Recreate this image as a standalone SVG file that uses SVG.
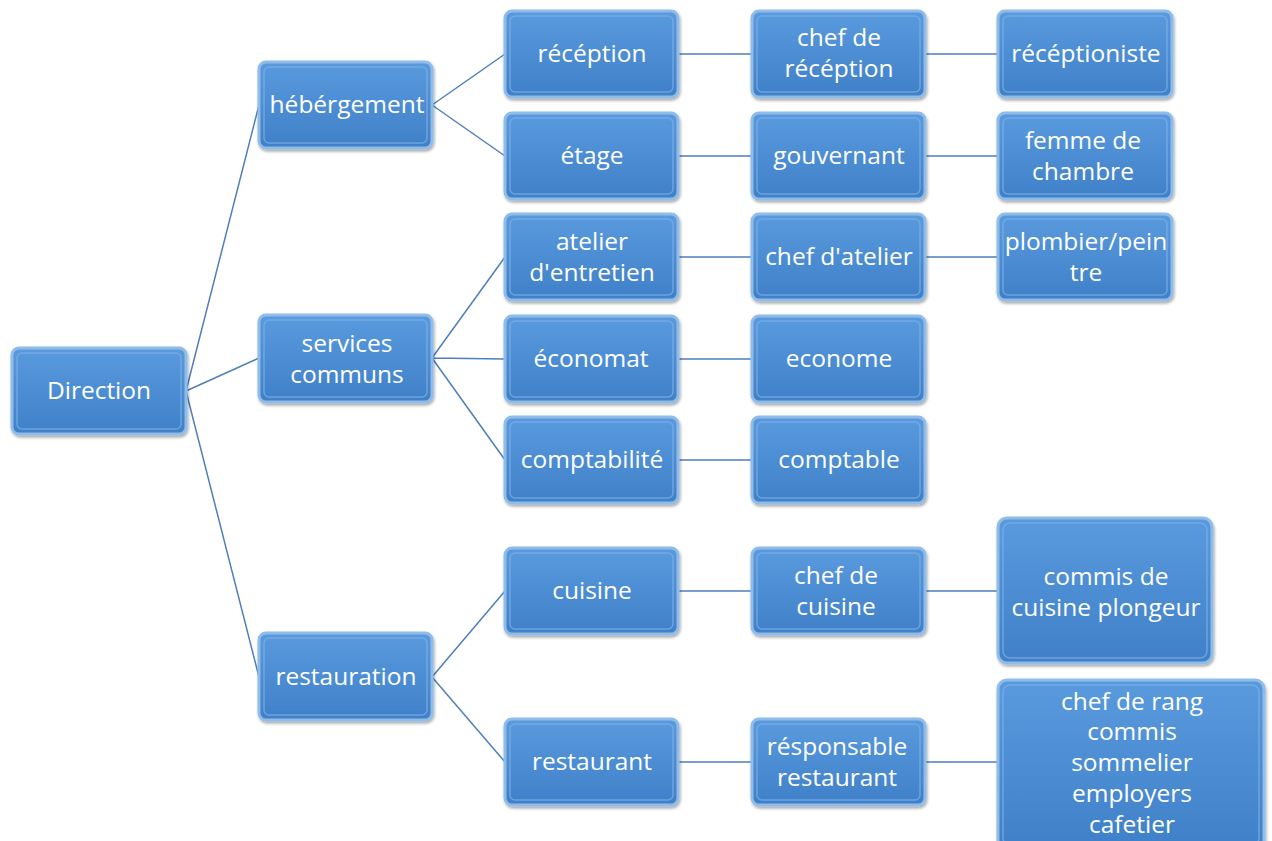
<svg xmlns="http://www.w3.org/2000/svg" width="1272" height="841" viewBox="0 0 1272 841">
<defs>
<linearGradient id="g" x1="0" y1="0" x2="0" y2="1">
<stop offset="0" stop-color="#5a9ade"/>
<stop offset="1" stop-color="#3f80c8"/>
</linearGradient>
<filter id="sh" x="-10%" y="-10%" width="130%" height="130%">
<feGaussianBlur in="SourceAlpha" stdDeviation="1.5"/>
<feOffset dx="1" dy="2" result="b"/>
<feComponentTransfer><feFuncA type="linear" slope="0.35"/></feComponentTransfer>
<feMerge><feMergeNode/><feMergeNode in="SourceGraphic"/></feMerge>
</filter>
</defs>
<style>
.b{fill:url(#g);stroke:#8fbce8;stroke-width:3;filter:url(#sh)}
.i{fill:none;stroke:#7fb0e4;stroke-width:1.5;opacity:0.7}
.t{font-family:"Open Sans","Liberation Sans",sans-serif;font-size:24.5px;fill:#ffffff;text-anchor:middle}
.c{stroke:#4f7fba;stroke-width:1.5;fill:none}
</style>
<rect width="1272" height="841" fill="#ffffff"/>
<g id="connectors">
<path class="c" d="M186,391 L259,105 M186,391 L259,358 M186,391 L259,677"/>
<path class="c" d="M432,105 L505,54 M432,105 L505,156"/>
<path class="c" d="M432,358 L505,257 M432,358 L505,359 M432,358 L505,460"/>
<path class="c" d="M432,677 L505,591 M432,677 L505,762"/>
<path class="c" d="M678,54 H752 M678,156 H752 M678,257 H752 M678,359 H752 M678,460 H752 M678,591 H752 M678,762 H752"/>
<path class="c" d="M925,54 H998 M925,156 H998 M925,257 H998 M925,591 H998 M925,762 H998"/>
</g>
<g id="direction"><rect class="b" x="12" y="348" width="174" height="86" rx="7"/><rect class="i" x="17" y="353" width="164" height="76" rx="5"/><text class="t" x="99" y="399">Direction</text></g>
<g id="hebergement"><rect class="b" x="259" y="62" width="173" height="86" rx="7"/><rect class="i" x="264" y="67" width="163" height="76" rx="5"/><text class="t" x="347" y="113">hébérgement</text></g>
<g id="services"><rect class="b" x="259" y="315" width="173" height="87" rx="7"/><rect class="i" x="264" y="320" width="163" height="77" rx="5"/><text class="t" x="347" y="352">services</text><text class="t" x="347" y="383">communs</text></g>
<g id="restauration"><rect class="b" x="259" y="633" width="173" height="87" rx="7"/><rect class="i" x="264" y="638" width="163" height="77" rx="5"/><text class="t" x="346" y="685">restauration</text></g>

<g id="reception"><rect class="b" x="505" y="11" width="173" height="86" rx="7"/><rect class="i" x="510" y="16" width="163" height="76" rx="5"/><text class="t" x="592" y="62">récéption</text></g>
<g id="etage"><rect class="b" x="505" y="113" width="173" height="86" rx="7"/><rect class="i" x="510" y="118" width="163" height="76" rx="5"/><text class="t" x="592" y="164">étage</text></g>
<g id="atelier"><rect class="b" x="505" y="214" width="173" height="86" rx="7"/><rect class="i" x="510" y="219" width="163" height="76" rx="5"/><text class="t" x="592" y="250">atelier</text><text class="t" x="592" y="281">d'entretien</text></g>
<g id="economat"><rect class="b" x="505" y="316" width="173" height="86" rx="7"/><rect class="i" x="510" y="321" width="163" height="76" rx="5"/><text class="t" x="591" y="367">économat</text></g>
<g id="comptabilite"><rect class="b" x="505" y="417" width="173" height="86" rx="7"/><rect class="i" x="510" y="422" width="163" height="76" rx="5"/><text class="t" x="592" y="468">comptabilité</text></g>
<g id="cuisine"><rect class="b" x="505" y="548" width="173" height="86" rx="7"/><rect class="i" x="510" y="553" width="163" height="76" rx="5"/><text class="t" x="592" y="599">cuisine</text></g>
<g id="restaurant"><rect class="b" x="505" y="719" width="173" height="86" rx="7"/><rect class="i" x="510" y="724" width="163" height="76" rx="5"/><text class="t" x="592" y="770">restaurant</text></g>

<g id="chef-reception"><rect class="b" x="752" y="11" width="173" height="86" rx="7"/><rect class="i" x="757" y="16" width="163" height="76" rx="5"/><text class="t" x="839" y="46">chef de</text><text class="t" x="839" y="77">récéption</text></g>
<g id="gouvernant"><rect class="b" x="752" y="113" width="173" height="86" rx="7"/><rect class="i" x="757" y="118" width="163" height="76" rx="5"/><text class="t" x="839" y="164">gouvernant</text></g>
<g id="chef-atelier"><rect class="b" x="752" y="214" width="173" height="86" rx="7"/><rect class="i" x="757" y="219" width="163" height="76" rx="5"/><text class="t" x="839" y="265">chef d'atelier</text></g>
<g id="econome"><rect class="b" x="752" y="316" width="173" height="86" rx="7"/><rect class="i" x="757" y="321" width="163" height="76" rx="5"/><text class="t" x="839" y="367">econome</text></g>
<g id="comptable"><rect class="b" x="752" y="417" width="173" height="86" rx="7"/><rect class="i" x="757" y="422" width="163" height="76" rx="5"/><text class="t" x="839" y="468">comptable</text></g>
<g id="chef-cuisine"><rect class="b" x="752" y="548" width="173" height="86" rx="7"/><rect class="i" x="757" y="553" width="163" height="76" rx="5"/><text class="t" x="836" y="584">chef de</text><text class="t" x="836" y="615">cuisine</text></g>
<g id="responsable"><rect class="b" x="752" y="719" width="173" height="86" rx="7"/><rect class="i" x="757" y="724" width="163" height="76" rx="5"/><text class="t" x="837" y="755">résponsable</text><text class="t" x="837" y="786">restaurant</text></g>

<g id="receptioniste"><rect class="b" x="998" y="11" width="174" height="86" rx="7"/><rect class="i" x="1003" y="16" width="164" height="76" rx="5"/><text class="t" x="1086" y="62">récéptioniste</text></g>
<g id="femme"><rect class="b" x="998" y="113" width="174" height="86" rx="7"/><rect class="i" x="1003" y="118" width="164" height="76" rx="5"/><text class="t" x="1083" y="149">femme de</text><text class="t" x="1083" y="180">chambre</text></g>
<g id="plombier"><rect class="b" x="998" y="214" width="174" height="86" rx="7"/><rect class="i" x="1003" y="219" width="164" height="76" rx="5"/><text class="t" x="1086" y="250">plombier/pein</text><text class="t" x="1086" y="281">tre</text></g>
<g id="commis-cuisine"><rect class="b" x="998" y="518" width="214" height="145" rx="9"/><rect class="i" x="1003" y="523" width="204" height="135" rx="7"/><text class="t" x="1106" y="585">commis de</text><text class="t" x="1106" y="616">cuisine plongeur</text></g>
<g id="chef-rang"><rect class="b" x="998" y="680" width="266" height="170" rx="9"/><rect class="i" x="1003" y="685" width="256" height="160" rx="7"/><text class="t" x="1132" y="710">chef de rang</text><text class="t" x="1132" y="740">commis</text><text class="t" x="1132" y="771">sommelier</text><text class="t" x="1132" y="802">employers</text><text class="t" x="1132" y="833">cafetier</text></g>
</svg>
